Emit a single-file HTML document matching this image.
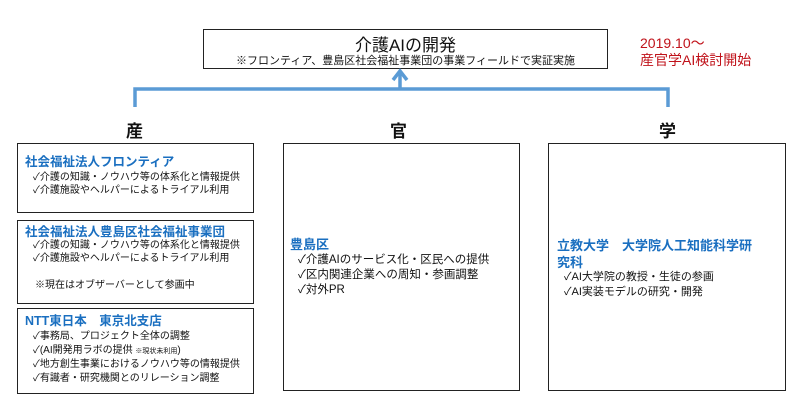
<!DOCTYPE html>
<html><head><meta charset="utf-8"><style>
body{margin:0;width:800px;height:401px;background:#fff;position:relative;overflow:hidden;font-family:"Liberation Sans","Noto Sans CJK JP",sans-serif;}
.b{position:absolute;border:1.5px solid #222;box-sizing:border-box;}
.t{position:absolute;color:#1a6fc0;font-weight:bold;font-size:12.5px;line-height:15px;white-space:nowrap;}
.l{position:absolute;color:#111;font-size:10px;line-height:12.5px;white-space:nowrap;}
.h{position:absolute;font-weight:bold;font-size:17px;color:#111;}
</style></head><body>
<div class="b" style="left:203px;top:29px;width:405px;height:40px;"></div>
<div style="position:absolute;left:203px;top:31px;width:405px;text-align:center;font-size:17px;color:#111;">介護AIの開発</div>
<div style="position:absolute;left:203px;top:52px;width:405px;text-align:center;font-size:11px;color:#111;">※フロンティア、豊島区社会福祉事業団の事業フィールドで実証実施</div>
<div style="position:absolute;left:640px;top:35px;color:#c0121a;font-size:14px;line-height:17px;">2019.10～<br>産官学AI検討開始</div>
<svg style="position:absolute;left:0;top:0" width="800" height="401">
<path d="M135 107 V89 H668 V107" fill="none" stroke="#5b9bd5" stroke-width="3.5"/>
<line x1="400" y1="89" x2="400" y2="73" stroke="#5b9bd5" stroke-width="3.5"/>
<path d="M393 80 L400 71 L407 80" fill="none" stroke="#5b9bd5" stroke-width="3.5"/>
</svg>
<div class="h" style="left:126px;top:117px;">産</div>
<div class="h" style="left:390px;top:117px;">官</div>
<div class="h" style="left:659px;top:117px;">学</div>
<div class="b" style="left:17px;top:143px;width:237px;height:70px;"></div>
<div class="t" style="left:25px;top:155px;">社会福祉法人フロンティア</div>
<div class="l" style="left:33px;top:172px;">✓介護の知識・ノウハウ等の体系化と情報提供<br>✓介護施設やヘルパーによるトライアル利用</div>
<div class="b" style="left:17px;top:220px;width:237px;height:84px;"></div>
<div class="t" style="left:25px;top:225px;">社会福祉法人豊島区社会福祉事業団</div>
<div class="l" style="left:33px;top:240px;">✓介護の知識・ノウハウ等の体系化と情報提供<br>✓介護施設やヘルパーによるトライアル利用</div>
<div class="l" style="left:35px;top:280px;">※現在はオブザーバーとして参画中</div>
<div class="b" style="left:17px;top:308px;width:237px;height:86px;"></div>
<div class="t" style="left:25px;top:314px;">NTT東日本　東京北支店</div>
<div class="l" style="left:33px;top:330px;line-height:13.5px;">✓事務局、プロジェクト全体の調整<br>✓(AI開発用ラボの提供 <span style="font-size:7px">※現状未利用</span>)<br>✓地方創生事業におけるノウハウ等の情報提供<br>✓有識者・研究機関とのリレーション調整</div>
<div class="b" style="left:283px;top:143px;width:237px;height:248px;"></div>
<div class="t" style="left:290px;top:237px;font-size:13px;">豊島区</div>
<div class="l" style="left:298px;top:253px;font-size:11.5px;line-height:15px;">✓介護AIのサービス化・区民への提供<br>✓区内関連企業への周知・参画調整<br>✓対外PR</div>
<div class="b" style="left:548px;top:143px;width:238px;height:248px;"></div>
<div class="t" style="left:557px;top:237px;line-height:17px;font-size:13px;">立教大学　大学院人工知能科学研<br>究科</div>
<div class="l" style="left:564px;top:270px;font-size:11px;line-height:15px;">✓AI大学院の教授・生徒の参画<br>✓AI実装モデルの研究・開発</div>
</body></html>
